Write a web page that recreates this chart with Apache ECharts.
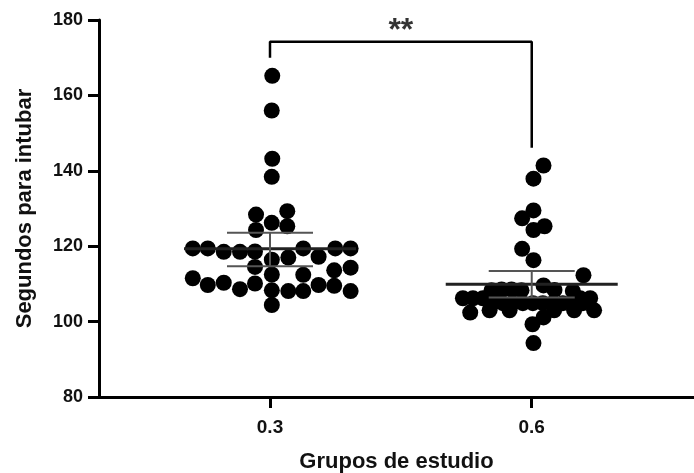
<!DOCTYPE html>
<html>
<head>
<meta charset="utf-8">
<script src="https://cdn.jsdelivr.net/npm/echarts@6/dist/echarts.min.js"></script>
<style>
  html, body { margin: 0; padding: 0; background: #fff; }
  #chart { width: 694px; height: 473px; }
</style>
</head>
<body>
<div id="chart"></div>
<script>
// grupos y ticks
var groups = [0.3, 0.6];
var yTicks = [80, 100, 120, 140, 160, 180];

// puntos: [x (con dispersion), segundos]
var dots03 = [
  [0.3026, 165.2], [0.3020, 156.0], [0.3026, 143.2], [0.3020, 138.4],
  [0.3198, 129.3], [0.2840, 128.4], [0.3020, 126.2], [0.3198, 125.3], [0.2840, 124.3],
  [0.2115, 119.4], [0.2287, 119.4], [0.2470, 118.5], [0.2656, 118.5], [0.2828, 118.6],
  [0.3021, 116.4], [0.3210, 117.0], [0.3381, 119.4], [0.3557, 117.2], [0.3748, 119.4], [0.3924, 119.4],
  [0.2828, 114.5], [0.3021, 112.5], [0.3381, 112.4], [0.3736, 113.6], [0.3924, 114.3],
  [0.2115, 111.5], [0.2287, 109.7], [0.2470, 110.3], [0.2656, 108.6], [0.2828, 110.1],
  [0.3021, 108.3], [0.3210, 108.1], [0.3381, 108.1], [0.3557, 109.7], [0.3736, 109.5], [0.3924, 108.1],
  [0.3021, 104.4]
];
var dots06 = [
  [0.6135, 141.4], [0.6020, 137.9], [0.6020, 129.5], [0.5890, 127.4], [0.6147, 125.3],
  [0.6020, 124.3], [0.5890, 119.3], [0.6020, 116.3], [0.6593, 112.3],
  [0.6135, 109.6], [0.6261, 108.4], [0.6471, 108.1],
  [0.5539, 108.3], [0.5654, 108.5], [0.5768, 108.5], [0.5883, 108.3],
  [0.5211, 106.2], [0.5326, 106.2], [0.5440, 106.2], [0.5555, 106.0], [0.6555, 106.2], [0.6670, 106.2],
  [0.5555, 104.9], [0.5669, 104.9], [0.5784, 104.9], [0.5898, 104.9], [0.6013, 104.9],
  [0.6127, 104.9], [0.6242, 104.9], [0.6356, 104.9], [0.6471, 104.9], [0.6585, 104.9],
  [0.5295, 102.4], [0.5517, 103.0], [0.5746, 103.0], [0.6257, 103.0], [0.6486, 103.0], [0.6715, 103.0],
  [0.6135, 101.1], [0.6009, 99.3], [0.6020, 94.3]
];

// media y EEM por grupo
var means = [119.3, 109.9];
var semLow = [114.7, 106.4];
var semHigh = [123.6, 113.4];

// corchete de significancia
var bracketLeft = 170;
var bracketTop = 174.2;
var bracketRight = 146.1;
var sigLabel = '**';

var font = '"Liberation Sans", Arial, sans-serif';

var summary = groups.map(function (g, i) {
  return [g, means[i], semLow[i], semHigh[i]];
});

var chart = echarts.init(document.getElementById('chart'));
chart.setOption({
  animation: false,
  grid: { left: 99, right: 0, top: 20, bottom: 76, outerBoundsMode: 'none' },
  xAxis: {
    type: 'value',
    min: 0.104,
    max: 0.786,
    name: 'Grupos de estudio',
    nameLocation: 'middle',
    nameGap: 54,
    nameTextStyle: { fontFamily: font, fontWeight: 'bold', fontSize: 22, color: '#111' },
    axisLine: { onZero: false, lineStyle: { color: '#000', width: 3 } },
    axisTick: { customValues: groups, length: 11, lineStyle: { color: '#000', width: 3 } },
    axisLabel: {
      customValues: groups,
      formatter: function (v) { return v.toFixed(1); },
      fontFamily: font, fontWeight: 'bold', fontSize: 19, color: '#111', margin: 21
    },
    splitLine: { show: false }
  },
  yAxis: {
    type: 'value',
    min: 80,
    max: 180,
    interval: 20,
    name: 'Segundos para intubar',
    nameLocation: 'middle',
    nameGap: 63,
    nameTextStyle: { fontFamily: font, fontWeight: 'bold', fontSize: 22, color: '#111' },
    axisLine: { show: true, lineStyle: { color: '#000', width: 3 } },
    axisTick: { show: true, length: 11, lineStyle: { color: '#000', width: 3 } },
    axisLabel: { fontFamily: font, fontWeight: 'bold', fontSize: 18, color: '#111', margin: 16 },
    splitLine: { show: false }
  },
  series: [
    {
      type: 'scatter',
      data: dots03,
      symbolSize: 16,
      itemStyle: { color: '#000', opacity: 1 },
      z: 2
    },
    {
      type: 'scatter',
      data: dots06,
      symbolSize: 16,
      itemStyle: { color: '#000', opacity: 1 },
      z: 2
    },
    {
      type: 'custom',
      data: summary,
      z: 3,
      renderItem: function (params, api) {
        var m = api.coord([api.value(0), api.value(1)]);
        var lo = api.coord([api.value(0), api.value(2)]);
        var hi = api.coord([api.value(0), api.value(3)]);
        var semStyle = { stroke: '#555', lineWidth: 2 };
        return {
          type: 'group',
          children: [
            { type: 'line', shape: { x1: m[0] - 86, y1: m[1], x2: m[0] + 86, y2: m[1] }, style: { stroke: '#222', lineWidth: 3 } },
            { type: 'line', shape: { x1: m[0], y1: lo[1], x2: m[0], y2: hi[1] }, style: semStyle },
            { type: 'line', shape: { x1: m[0] - 43, y1: lo[1], x2: m[0] + 43, y2: lo[1] }, style: semStyle },
            { type: 'line', shape: { x1: m[0] - 43, y1: hi[1], x2: m[0] + 43, y2: hi[1] }, style: semStyle }
          ]
        };
      }
    },
    {
      type: 'line',
      data: [[groups[0], bracketLeft], [groups[0], bracketTop], [groups[1], bracketTop], [groups[1], bracketRight]],
      showSymbol: false,
      lineStyle: { color: '#000', width: 2.5 },
      z: 4
    },
    {
      type: 'scatter',
      data: [[(groups[0] + groups[1]) / 2, bracketTop]],
      symbolSize: 0,
      label: {
        show: true,
        formatter: sigLabel,
        position: 'top',
        distance: -5,
        fontFamily: font,
        fontWeight: 'bold',
        fontSize: 32,
        color: '#000'
      }
    }
  ]
});
</script>
</body>
</html>
